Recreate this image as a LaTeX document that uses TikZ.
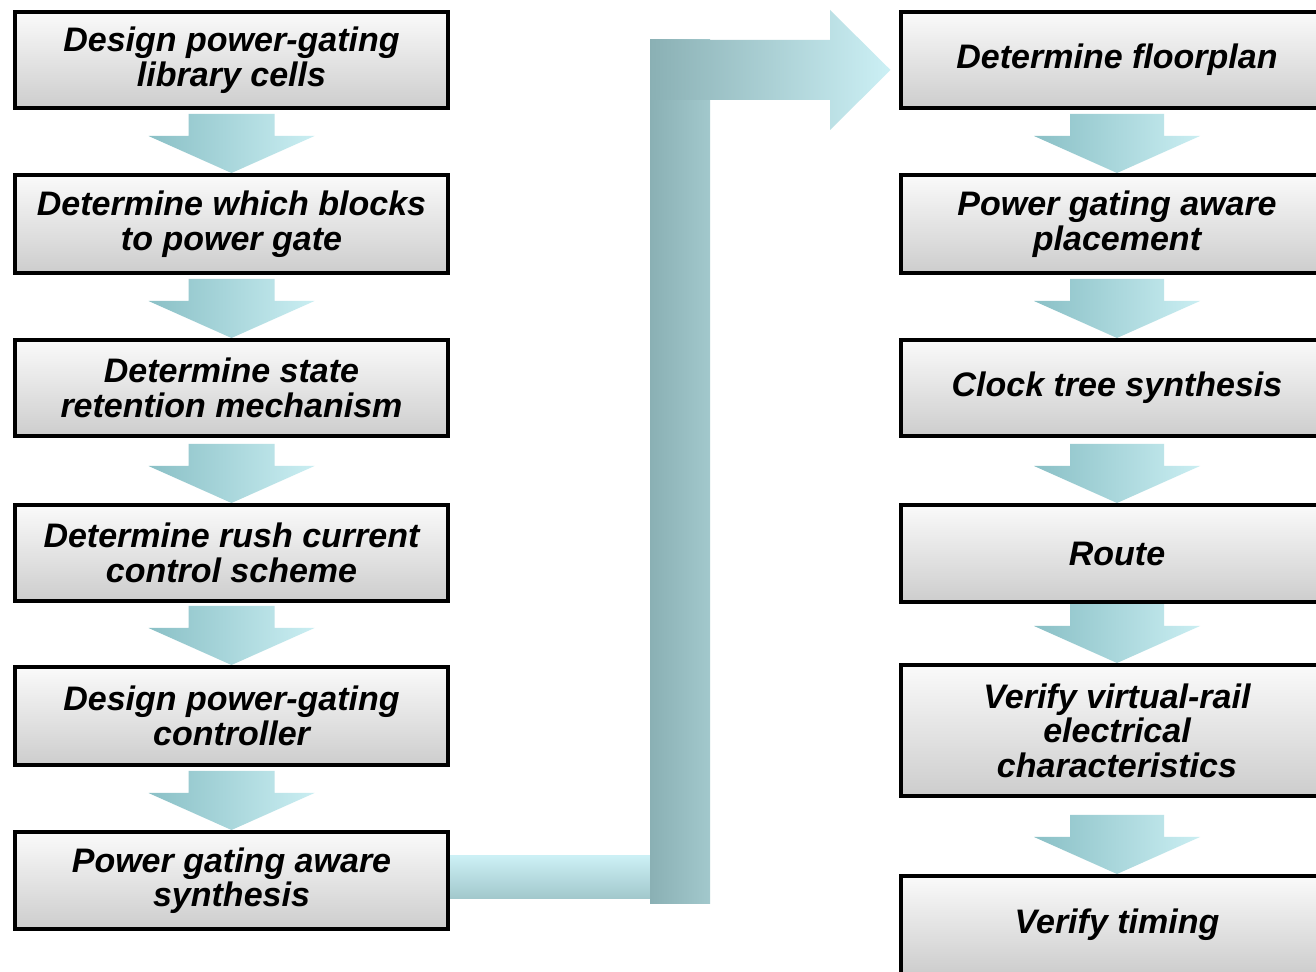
\documentclass[tikz,border=0pt]{standalone}
\usepackage{fontspec}
\setmainfont{Liberation Sans}
\usetikzlibrary{calc}
\pgfdeclarelayer{background}
\pgfsetlayers{background,main}
\definecolor{arrowdark}{RGB}{138,192,198}
\definecolor{arrowlight}{RGB}{202,238,242}
\definecolor{bardark}{RGB}{138,176,180}
\definecolor{barmid}{RGB}{162,200,204}
\definecolor{barlight}{RGB}{204,240,245}
\definecolor{boxtop}{RGB}{250,250,250}
\definecolor{boxbottom}{RGB}{205,205,205}
\tikzset{
  stepbox/.style={draw=black, line width=4pt, top color=boxtop, bottom color=boxbottom,
    minimum width=433pt, minimum height=96pt, inner sep=0pt, align=center,
    font=\fontsize{34}{34.5}\selectfont\bfseries\itshape},
  flowarrow/.style={left color=arrowdark, right color=arrowlight},
}
% block arrow from node #1 down to node #2; #3 shaft half width, #4 head half width
\newcommand\flowdown[4]{%
  \path[flowarrow] let \p1=(#1.south), \p2=(#2.north) in
    (\x1-#3,\y2+59) -- (\x1+#3,\y2+59) -- (\x1+#3,\y2+37) -- (\x1+#4,\y2+37)
    -- (\x1,\y2) -- (\x1-#4,\y2+37) -- (\x1-#3,\y2+37) -- cycle;}
\begin{document}
\begin{tikzpicture}[x=1pt,y=1pt]
\useasboundingbox (0,0) rectangle (1316,971);
\begin{pgfonlayer}{background}
\fill[white] (0,0) rectangle (1316,971);
\end{pgfonlayer}
\clip (0,0) rectangle (1316,971);
% boxes
\node[stepbox, minimum height=96pt] (L1) at (231.5,911) {Design power-gating\\library cells};
\node[stepbox, minimum height=98pt] (L2) at (231.5,747) {Determine which blocks\\to power gate};
\node[stepbox, minimum height=96pt] (L3) at (231.5,583) {Determine state\\retention mechanism};
\node[stepbox, minimum height=96pt] (L4) at (231.5,418) {Determine rush current\\control scheme};
\node[stepbox, minimum height=98pt] (L5) at (231.5,255) {Design power-gating\\controller};
\node[stepbox, minimum height=97pt] (L6) at (231.5,90.5) {Power gating aware\\synthesis};
\node[stepbox, minimum height=96pt] (R1) at (1117,911) {Determine floorplan};
\node[stepbox, minimum height=98pt] (R2) at (1117,747) {Power gating aware\\placement};
\node[stepbox, minimum height=96pt] (R3) at (1117,583) {Clock tree synthesis};
\node[stepbox, minimum height=97pt] (R4) at (1117,417.5) {Route};
\node[stepbox, minimum height=131pt] (R5) at (1117,240.5) {Verify virtual-rail\\electrical\\characteristics};
\node[stepbox, minimum height=98pt] (R6) at (1117,46) {Verify timing};
% arrows (behind boxes)
\begin{pgfonlayer}{background}
\flowdown{L1}{L2}{43}{83}
\flowdown{L2}{L3}{43}{83}
\flowdown{L3}{L4}{43}{83}
\flowdown{L4}{L5}{43}{83}
\flowdown{L5}{L6}{43}{83}
\flowdown{R1}{R2}{47}{83}
\flowdown{R2}{R3}{47}{83}
\flowdown{R3}{R4}{47}{83}
\flowdown{R4}{R5}{47}{83}
\flowdown{R5}{R6}{47}{83}
% big L connector from L6 to R1
\path[top color=barlight, bottom color=barmid] let \p1=(L6.east) in
  (\x1-2,\y1-18) rectangle (650,\y1+25);
\path[left color=bardark, right color=barmid] let \p1=(L6.east), \p2=(R1.west) in
  (650,\y1-23) rectangle (710,\y2+20);
\path[left color=bardark, right color=barlight] let \p2=(R1.west) in
  (650,\y2+20) -- (830,\y2+20) -- (830,\y2+50) -- (\x2-8,\y2-10)
  -- (830,\y2-70) -- (830,\y2-40) -- (650,\y2-40) -- cycle;
\end{pgfonlayer}
\end{tikzpicture}
\end{document}
